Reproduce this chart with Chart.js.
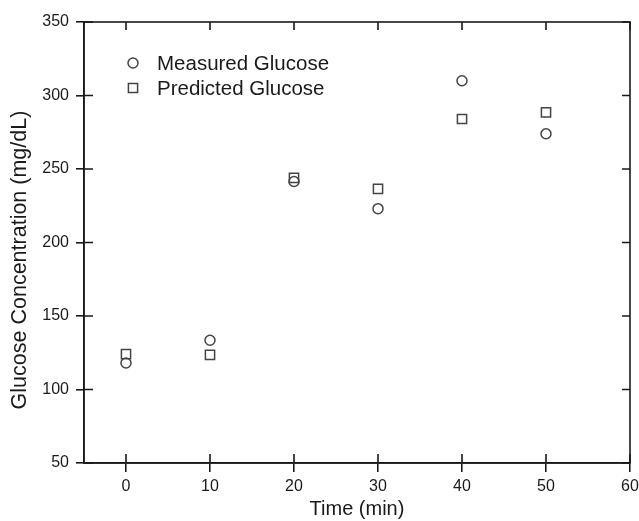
<!DOCTYPE html>
<html>
<head>
<meta charset="utf-8">
<script src="https://cdn.jsdelivr.net/npm/chart.js@4"></script>
<style>
  html, body { margin: 0; padding: 0; background: #fff; }
  #wrap { width: 639px; height: 521px; }
</style>
</head>
<body>
<div id="wrap"><canvas id="chart" width="639" height="521"></canvas></div>
<script>
const times = [0, 10, 20, 30, 40, 50];
const measured = [118, 133.5, 241.5, 223, 310, 274];
const predicted = [124, 123.5, 244, 236.5, 284, 288.5];
const xTicks = [0, 10, 20, 30, 40, 50, 60];
const yTicks = [50, 100, 150, 200, 250, 300, 350];
const yTitle = "Glucose Concentration (mg/dL)";

const ink = "#1a1a1a";
const font = "'Liberation Sans', Arial, sans-serif";

// box frame, inward / mirrored ticks, legend and y title
const frame = {
  id: "frame",
  afterDraw(chart) {
    const ctx = chart.ctx, a = chart.chartArea;
    const x = chart.scales.x, y = chart.scales.y;
    ctx.save();
    ctx.strokeStyle = ink;
    ctx.lineWidth = 1.6;
    ctx.strokeRect(a.left, a.top, a.right - a.left, a.bottom - a.top);
    ctx.beginPath();
    xTicks.forEach(v => {
      const px = x.getPixelForValue(v);
      ctx.moveTo(px, a.bottom); ctx.lineTo(px, a.bottom - 9);
      ctx.moveTo(px, a.top); ctx.lineTo(px, a.top + 8);
    });
    yTicks.forEach(v => {
      const py = y.getPixelForValue(v);
      ctx.moveTo(a.left, py); ctx.lineTo(a.left + 9, py);
      ctx.moveTo(a.right, py); ctx.lineTo(a.right - 8, py);
    });
    ctx.stroke();

    // legend
    ctx.font = "20.5px " + font;
    ctx.textBaseline = "middle";
    chart.data.datasets.forEach((ds, i) => {
      const ly = 63 + i * 25;
      ctx.strokeStyle = "#444";
      ctx.fillStyle = "#fff";
      ctx.lineWidth = ds.borderWidth;
      Chart.helpers.drawPoint(ctx, {
        pointStyle: ds.pointStyle, radius: ds.pointRadius,
        borderWidth: ds.borderWidth, rotation: 0
      }, 133, ly);
      ctx.fillStyle = ink;
      ctx.fillText(ds.label, 157, ly + 1);
    });

    // y axis title
    ctx.translate(20, 260);
    ctx.rotate(-Math.PI / 2);
    ctx.textAlign = "center";
    ctx.font = "21.5px " + font;
    ctx.fillText(yTitle, 0, 0);
    ctx.restore();
  }
};

new Chart(document.getElementById("chart"), {
  type: "scatter",
  data: {
    datasets: [{
      label: "Measured Glucose",
      data: times.map((t, i) => ({ x: t, y: measured[i] })),
      pointStyle: "circle",
      pointRadius: 5,
      borderWidth: 1.5,
      borderColor: "#444",
      backgroundColor: "rgba(255,255,255,0)"
    }, {
      label: "Predicted Glucose",
      data: times.map((t, i) => ({ x: t, y: predicted[i] })),
      pointStyle: "rect",
      pointRadius: 6.5,
      borderWidth: 1.5,
      borderColor: "#444",
      backgroundColor: "rgba(255,255,255,0)"
    }]
  },
  options: {
    responsive: false,
    animation: false,
    layout: { padding: { top: 22, right: 9, left: 0, bottom: 0 } },
    plugins: { legend: { display: false }, tooltip: { enabled: false } },
    scales: {
      x: {
        type: "linear", min: -5, max: 60,
        afterBuildTicks: s => { s.ticks = xTicks.map(v => ({ value: v })); },
        afterFit: s => { s.height = 58; s.paddingRight = 0; s.paddingLeft = 0; },
        grid: { drawOnChartArea: false, tickLength: 9, color: ink, lineWidth: 1.6 },
        border: { display: true, color: ink, width: 1.6 },
        ticks: { color: ink, font: { family: font, size: 16 }, padding: 5, maxRotation: 0 },
        title: { display: true, text: "Time (min)", color: ink, font: { family: font, size: 20 }, padding: { top: 0, bottom: 0 } }
      },
      y: {
        type: "linear", min: 50, max: 350,
        afterBuildTicks: s => { s.ticks = yTicks.map(v => ({ value: v })); },
        afterFit: s => { s.width = 84; },
        grid: { drawOnChartArea: false, tickLength: 8, color: ink, lineWidth: 1.6 },
        border: { display: true, color: ink, width: 1.6 },
        ticks: { color: ink, font: { family: font, size: 16 }, padding: 7 }
      }
    }
  },
  plugins: [frame]
});
</script>
</body>
</html>
